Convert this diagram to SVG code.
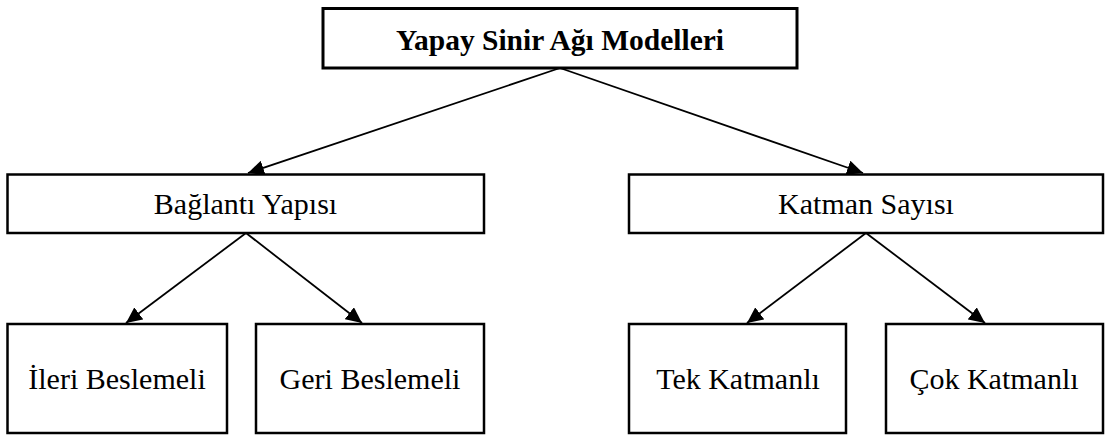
<svg xmlns="http://www.w3.org/2000/svg" width="1105" height="435" viewBox="0 0 1105 435">
  <style>
    .box { fill: #ffffff; stroke: #000000; stroke-width: 2.5; }
    .root { stroke-width: 3; }
    .label { font-family: "Liberation Serif", "Times New Roman", serif; font-size: 30px; fill: #000000; text-anchor: middle; }
    .bold { font-weight: bold; font-size: 29.5px; }
    .edge { stroke: #000000; stroke-width: 1.8; fill: none; marker-end: url(#arrow); }
  </style>
  <defs>
    <marker id="arrow" markerUnits="userSpaceOnUse" markerWidth="17" markerHeight="15" viewBox="0 0 17 15" refX="16" refY="7.5" orient="auto">
      <path d="M0,0 L16,7.5 L0,15 Z" fill="#000000"/>
    </marker>
  </defs>

  <rect width="1105" height="435" fill="#ffffff"/>

  <!-- connectors -->
  <g id="connectors">
    <line class="edge" x1="560" y1="68" x2="248" y2="173"/>
    <line class="edge" x1="560" y1="68" x2="863" y2="173"/>
    <line class="edge" x1="246" y1="233" x2="126" y2="323"/>
    <line class="edge" x1="246" y1="233" x2="362" y2="323"/>
    <line class="edge" x1="866" y1="233" x2="747" y2="323"/>
    <line class="edge" x1="866" y1="233" x2="985" y2="323"/>
  </g>

  <!-- root -->
  <g id="node-root">
    <rect class="box root" x="323" y="8.5" width="474" height="59.5"/>
    <text class="label bold" x="560" y="50">Yapay Sinir Ağı Modelleri</text>
  </g>

  <!-- second level -->
  <g id="node-baglanti">
    <rect class="box" x="7.5" y="174.5" width="476.5" height="58.5"/>
    <text class="label" x="245.5" y="214">Bağlantı Yapısı</text>
  </g>
  <g id="node-katman">
    <rect class="box" x="629" y="174.5" width="474" height="58.5"/>
    <text class="label" x="866" y="214">Katman Sayısı</text>
  </g>

  <!-- leaves -->
  <g id="node-ileri">
    <rect class="box" x="7.5" y="324" width="219.5" height="109"/>
    <text class="label" x="117" y="389">İleri Beslemeli</text>
  </g>
  <g id="node-geri">
    <rect class="box" x="256" y="324" width="228" height="109"/>
    <text class="label" x="370" y="389">Geri Beslemeli</text>
  </g>
  <g id="node-tek">
    <rect class="box" x="629" y="324" width="217" height="109"/>
    <text class="label" x="738" y="389">Tek Katmanlı</text>
  </g>
  <g id="node-cok">
    <rect class="box" x="886" y="324" width="217" height="109"/>
    <text class="label" x="994" y="389">Çok Katmanlı</text>
  </g>
</svg>
